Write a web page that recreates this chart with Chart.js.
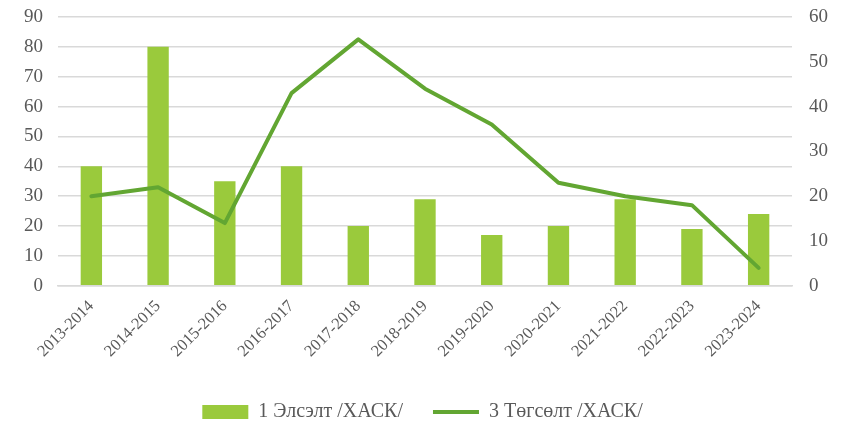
<!DOCTYPE html>
<html>
<head>
<meta charset="utf-8">
<script src="https://cdn.jsdelivr.net/npm/chart.js@4/dist/chart.umd.min.js"></script>
<style>
  html, body { margin: 0; padding: 0; background: #fff; }
  #wrap { width: 845px; height: 422px; }
</style>
</head>
<body>
<div id="wrap"><canvas id="myChart"></canvas></div>
<script>
const years = ['2013-2014', '2014-2015', '2015-2016', '2016-2017', '2017-2018', '2018-2019',
               '2019-2020', '2020-2021', '2021-2022', '2022-2023', '2023-2024'];
const admitted = [40, 80, 35, 40, 20, 29, 17, 20, 29, 19, 24];   // left axis, bars
const graduated = [20, 22, 14, 43, 55, 44, 36, 23, 20, 18, 4];   // right axis, line
const leftTicks = [0, 10, 20, 30, 40, 50, 60, 70, 80, 90];
const rightTicks = [0, 10, 20, 30, 40, 50, 60];

const family = '"Liberation Serif", "Times New Roman", serif';
const font = { family: family, size: 19 };
const legendFont = { family: family, size: 20 };
const xFont = { family: family, size: 16.5, lineHeight: 1.0 };
const grey = '#595959';

// pulls the legend a bit lower (shrinks its box, items are drawn from its top)
const legendShift = {
    id: 'legendShift',
    beforeInit(chart) {
        const fit = chart.legend.fit;
        chart.legend.fit = function () {
            fit.bind(chart.legend)();
            this.height -= 10;
        };
    }
};

document.addEventListener("DOMContentLoaded", () => {
    const ctx = document.getElementById('myChart');

    new Chart(ctx, {
      data: {
        labels: years,
        datasets: [{
          type: 'line',
          label: '3 Төгсөлт /ХАСК/',
          data: graduated,
          yAxisID: 'yRight',
          borderColor: '#62A632',
          backgroundColor: '#62A632',
          borderWidth: 4,
          borderCapStyle: 'round',
          borderJoinStyle: 'round',
          pointRadius: 0,
          pointStyle: 'line',
          tension: 0,
          order: 1
        }, {
          type: 'bar',
          label: '1 Элсэлт /ХАСК/',
          data: admitted,
          yAxisID: 'y',
          backgroundColor: '#9ACA3C',
          borderWidth: 0,
          pointStyle: 'rect',
          categoryPercentage: 1,
          barPercentage: 0.32,
          order: 2
        }]
      },
      plugins: [legendShift],
      options: {
        responsive: true,
        maintainAspectRatio: false,
        animation: false,
        layout: { padding: { left: 0, right: 0, top: 17, bottom: 0 } },
        plugins: {
          tooltip: { enabled: false },
          legend: {
            position: 'bottom',
            reverse: true,
            labels: {
              usePointStyle: true,
              pointStyleWidth: 46,
              boxHeight: 14,
              padding: 30,
              color: grey,
              font: legendFont
            }
          }
        },
        scales: {
          x: {
            grid: { display: false, drawTicks: false },
            border: { display: true, color: '#D9D9D9', width: 1.5 },
            ticks: { color: grey, font: xFont, maxRotation: 45, minRotation: 45, padding: 12 }
          },
          y: {
            position: 'left',
            min: leftTicks[0],
            max: leftTicks[leftTicks.length - 1],
            afterBuildTicks: axis => { axis.ticks = leftTicks.map(v => ({ value: v })); },
            afterFit: axis => { axis.width = 58; axis.paddingTop = 0; axis.paddingBottom = 0; },
            grid: { color: '#D9D9D9', lineWidth: 1.5, drawTicks: false },
            border: { display: false },
            ticks: { color: grey, font: font, padding: 15 }
          },
          yRight: {
            position: 'right',
            min: rightTicks[0],
            max: rightTicks[rightTicks.length - 1],
            afterBuildTicks: axis => { axis.ticks = rightTicks.map(v => ({ value: v })); },
            afterFit: axis => { axis.width = 53; axis.paddingTop = 0; axis.paddingBottom = 0; },
            grid: { display: false, drawTicks: false },
            border: { display: false },
            ticks: { color: grey, font: font, padding: 17 }
          }
        }
      }
    });
});
</script>
</body>
</html>
